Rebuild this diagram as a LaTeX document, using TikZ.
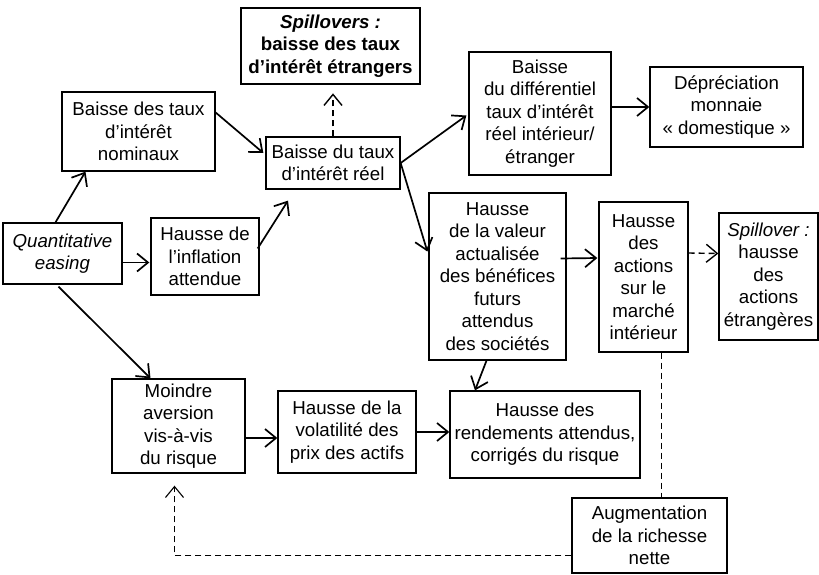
\documentclass[tikz,border=0pt]{standalone}
\usepackage{fontspec}
\setmainfont{Liberation Sans}
\usetikzlibrary{arrows.meta,calc}

\begin{document}
\begin{tikzpicture}[x=1pt,y=-1pt,->,>={Straight Barb[length=11pt,width=18pt]},line width=1.7pt,
    box/.style={draw,-,line width=1.3pt,align=center,inner sep=0pt,font=\fontsize{18.7}{22.5}\selectfont},
    dasharr/.style={line width=1.4pt,dash pattern=on 6pt off 4pt}]
  \useasboundingbox (0,0) rectangle (819,575);

  \node[box,minimum width=119pt,minimum height=61pt]  (qe)    at (62.5,253.5) {\textit{Quantitative}\\\textit{easing}};
  \node[box,minimum width=153pt,minimum height=79pt]  (nom)   at (138.5,131.5) {Baisse des taux\\d’intérêt\\nominaux};
  \node[box,minimum width=108pt,minimum height=77pt]  (infl)  at (205,256.5) {Hausse de\\l’inflation\\attendue};
  \node[box,minimum width=179pt,minimum height=76pt]  (spill) at (330.5,46) {\textbf{\textit{Spillovers :}}\\\textbf{baisse des taux}\\\textbf{d’intérêt étrangers}};
  \node[box,minimum width=134pt,minimum height=52pt]  (reel)  at (333,163) {Baisse du taux\\d’intérêt réel};
  \node[box,minimum width=142pt,minimum height=123pt] (diff)  at (540,113.5) {Baisse\\du différentiel\\taux d’intérêt\\réel intérieur/\\étranger};
  \node[box,minimum width=153pt,minimum height=80pt]  (dep)   at (726.5,107) {Dépréciation\\monnaie\\« domestique »};
  \node[box,minimum width=137pt,minimum height=167pt] (val)   at (497.5,276.5) {Hausse\\de la valeur\\actualisée\\des bénéfices\\futurs\\attendus\\des sociétés};
  \node[box,minimum width=89pt,minimum height=150pt]  (act)   at (643.5,277) {Hausse\\des\\actions\\sur le\\marché\\intérieur};
  \node[box,minimum width=99pt,minimum height=127pt]  (spa)   at (768.5,276.5) {\textit{Spillover :}\\hausse\\des\\actions\\étrangères};
  \node[box,minimum width=133pt,minimum height=94pt]  (moin)  at (178.5,426) {Moindre\\aversion\\vis-à-vis\\du risque};
  \node[box,minimum width=138pt,minimum height=82pt]  (vol)   at (347,432) {Hausse de la\\volatilité des\\prix des actifs};
  \node[box,minimum width=190pt,minimum height=87pt]  (rend)  at (545,434.5) {Hausse des\\rendements attendus,\\corrigés du risque};
  \node[box,minimum width=155pt,minimum height=75pt]  (aug)   at (649.5,535.5) {Augmentation\\de la richesse\\nette};

  % canal des taux
  \draw ($(qe.north)+(-7,0)$) -- ($(nom.south)+(-53,0)$);
  \draw ($(qe.east)+(0,9)$) -- ($(qe.east -| infl.west)+(-1,9)$);
  \draw ($(qe.south)+(-4,2)$) -- ($(moin.north)+(-28,0)$);
  \draw ($(nom.east)+(0,-19)$) -- ($(reel.west)+(-2,-10)$);
  \draw ($(infl.east)+(-2,-8)$) -- ($(reel.south)+(-45,11)$);
  \draw[dasharr] (reel.north) -- ($(reel.north)+(0,-43)$);
  \draw (reel.east) -- ($(diff.west)+(-2,2)$);
  \draw (reel.east) -- ($(val.west)+(-1,-25)$);
  \draw (diff.east |- dep.west) -- (dep.west);
  % canal des actifs
  \draw ($(val.east)+(-6,-18)$) -- ($(act.west)+(-1,-19)$);
  \draw[dasharr] ($(act.east)+(0,-24)$) -- ($(spa.west)+(0,-23)$);
  \draw ($(val.south)+(-11,0)$) -- ($(rend.north)+(-70,0)$);
  \draw ($(moin.east)+(0,12)$) -- ($(vol.west)+(0,6)$);
  \draw (vol.east) -- (vol.east -| rend.west);
  % richesse
  \draw[dasharr,-,line width=1.1pt] ($(act.south)+(18,0)$) -- ($(aug.north)+(12,0)$);
  \draw[dasharr,line width=1.1pt] ($(aug.west)+(0,20)$) -| ($(moin.south)+(-4,12)$);
\end{tikzpicture}
\end{document}
